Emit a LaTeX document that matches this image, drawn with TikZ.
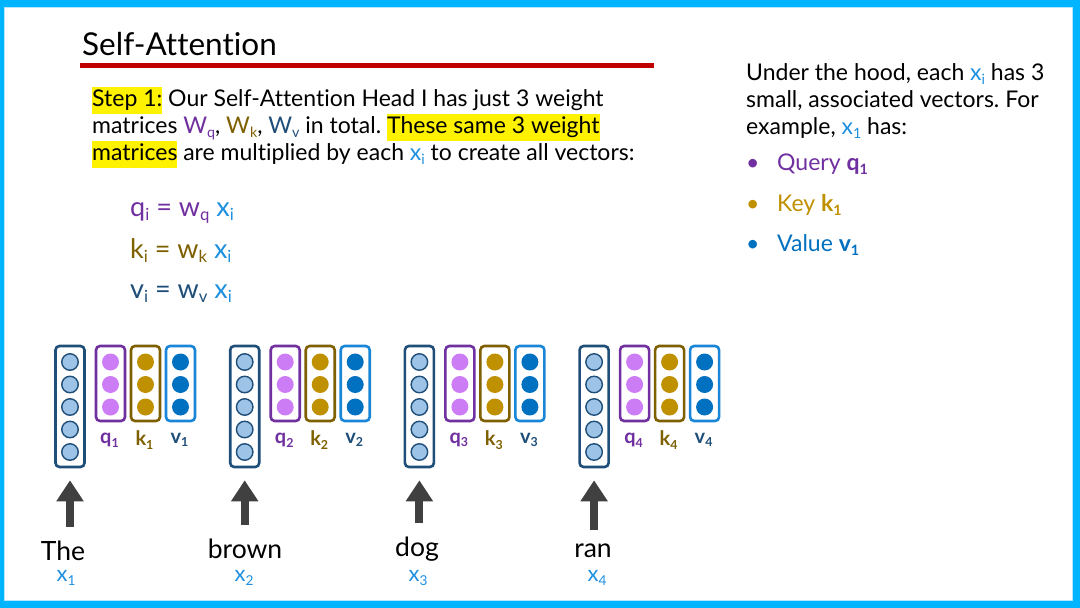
\documentclass[tikz,border=0pt]{standalone}
\usepackage{fontspec}
\setmainfont{Lato}[Ligatures=NoCommon]
\usepackage{graphicx}
\usetikzlibrary{arrows.meta,positioning}

\definecolor{frameblue}{HTML}{00B4FF}
\definecolor{titlered}{HTML}{C00000}
\definecolor{qdark}{HTML}{7030A0}
\definecolor{qlight}{HTML}{CC7CF5}
\definecolor{kdark}{HTML}{7F6000}
\definecolor{kfill}{HTML}{BF9000}
\definecolor{vdark}{HTML}{1F4E79}
\definecolor{vline}{HTML}{1A86D8}
\definecolor{vfill}{HTML}{0070C0}
\definecolor{xdark}{HTML}{1F4E79}
\definecolor{xfill}{HTML}{9DC3E6}
\definecolor{xtext}{HTML}{1E90E0}
\definecolor{arrowgray}{HTML}{404040}

\newcommand{\subx}[1]{\raisebox{-0.35ex}{\scalebox{0.62}{#1}}}
\newcommand{\hilite}[1]{{\setlength{\fboxsep}{0pt}\colorbox{yellow}{\strut #1}}}
\frenchspacing

\begin{document}
\begin{tikzpicture}[x=1pt,y=-1pt,
  vecbox/.style={draw, rounded corners=4pt, line width=2.6pt, minimum width=29pt, inner sep=0pt},
  dot/.style={circle, inner sep=0pt, minimum size=17pt},
  xdot/.style={dot, draw=xdark, line width=1.4pt, fill=xfill, minimum size=16.5pt},
  lab/.style={font=\fontsize{20}{22}\selectfont\bfseries, inner sep=0pt},
  word/.style={font=\fontsize{26.5}{30}\selectfont, inner sep=0pt},
  xword/.style={font=\fontsize{22}{24}\selectfont, text=xtext, inner sep=0pt},
  body/.style={font=\fontsize{23}{27}\selectfont, anchor=base west, inner sep=0pt},
  eq/.style={font=\fontsize{27}{30}\selectfont, anchor=base west, inner sep=0pt},
  uparrow/.style={draw=arrowgray, line width=8pt, -{Triangle[width=26pt,length=21pt]},
    shorten <=14pt, shorten >=12pt}]
\useasboundingbox (0,0) rectangle (1080,608);
% slide frame
\fill[frameblue] (0,0) rectangle (1080,608);
\fill[white] (4,7) rectangle (1073,601);
\draw[frameblue!30, line width=0.8pt] (4.4,7.4) rectangle (1072.6,600.6);

% title
\node[font=\fontsize{31.5}{34}\selectfont, anchor=base west, inner sep=0pt] (title) at (82,55) {Self-Attention};
\draw[titlered, line width=5pt] (80,65) -- (654,65);

% left text
\node[body] (line1) at (92,106) {\hilite{Step 1:} Our Self-Attention Head I has just 3 weight};
\node[body] (line2) at (92,133) {matrices \textcolor{qdark}{W\subx{q}}, \textcolor{kdark}{W\subx{k}}, \textcolor{vdark}{W\subx{v}} in total. \hilite{These same 3 weight}};
\node[body] (line3) at (92,160) {\hilite{matrices} are multiplied by each \textcolor{xtext}{x\subx{i}} to create all vectors:};

% formulas
\node[eq] (eqq) at (130,216) {\textcolor{qdark}{q\subx{i} = w\subx{q}} \textcolor{xtext}{x\subx{i}}};
\node[eq] (eqk) at (130,258) {\textcolor{kdark}{k\subx{i} = w\subx{k}} \textcolor{xtext}{x\subx{i}}};
\node[eq] (eqv) at (130,298) {\textcolor{vdark}{v\subx{i} = w\subx{v}} \textcolor{xtext}{x\subx{i}}};

% right text
\node[body] (r1) at (746,80) {Under the hood, each \textcolor{xtext}{x\subx{i}} has 3};
\node[body] (r2) at (746,107) {small, associated vectors. For};
\node[body] (r3) at (746,134) {example, \textcolor{xtext}{x\subx{1}} has:};
\foreach \n/\y/\col/\txt in {bq/170/qdark/{Query \textbf{q\subx{1}}},
                             bk/211/kfill/{Key \textbf{k\subx{1}}},
                             bv/251/vfill/{Value \textbf{v\subx{1}}}}{
  \node[body, text=\col] (\n dot) at (746,\y) {\textbullet};
  \node[body, text=\col] (\n) at (777,\y) {\txt};
}

% vectors for each word
\foreach \i in {1,...,4}{
  \pgfmathsetmacro\gx{55+174.7*(\i-1)}
  \node[vecbox, draw=xdark, minimum height=121pt] (xb\i) at (\gx+15,406.5) {};
  \foreach \j in {1,...,5}
    \node[xdot] (xd\i\j) at (\gx+15,{362+22.5*(\j-1)}) {};
  \foreach \c/\dx/\bd/\fl/\lb in {q/55.5/qdark/qlight/qdark, k/90.5/kdark/kfill/kdark, v/125.5/vline/vfill/vdark}{
    \node[vecbox, draw=\bd, minimum height=75pt] (\c b\i) at (\gx+\dx,383.5) {};
    \foreach \j in {1,2,3}
      \node[dot, fill=\fl] (\c d\i\j) at (\gx+\dx,{362+22.5*(\j-1)}) {};
    \node[lab, text=\lb] (\c l\i) at (\gx+\dx-1,440) {\c\subx{\i}};
  }
}

% words and input arrows
\foreach \i/\w/\wx/\wy/\sx in {1/The/63/551/66, 2/brown/245/549/244, 3/dog/417/549/418, 4/ran/593/551/597}{
  \node[word] (w\i) at (\wx,\wy) {\w};
  \node[xword] (xw\i) at (\sx,578) {x\subx{\i}};
  \draw[uparrow] (w\i.north -| xb\i.south) -- (xb\i.south);
}
\end{tikzpicture}
\end{document}
